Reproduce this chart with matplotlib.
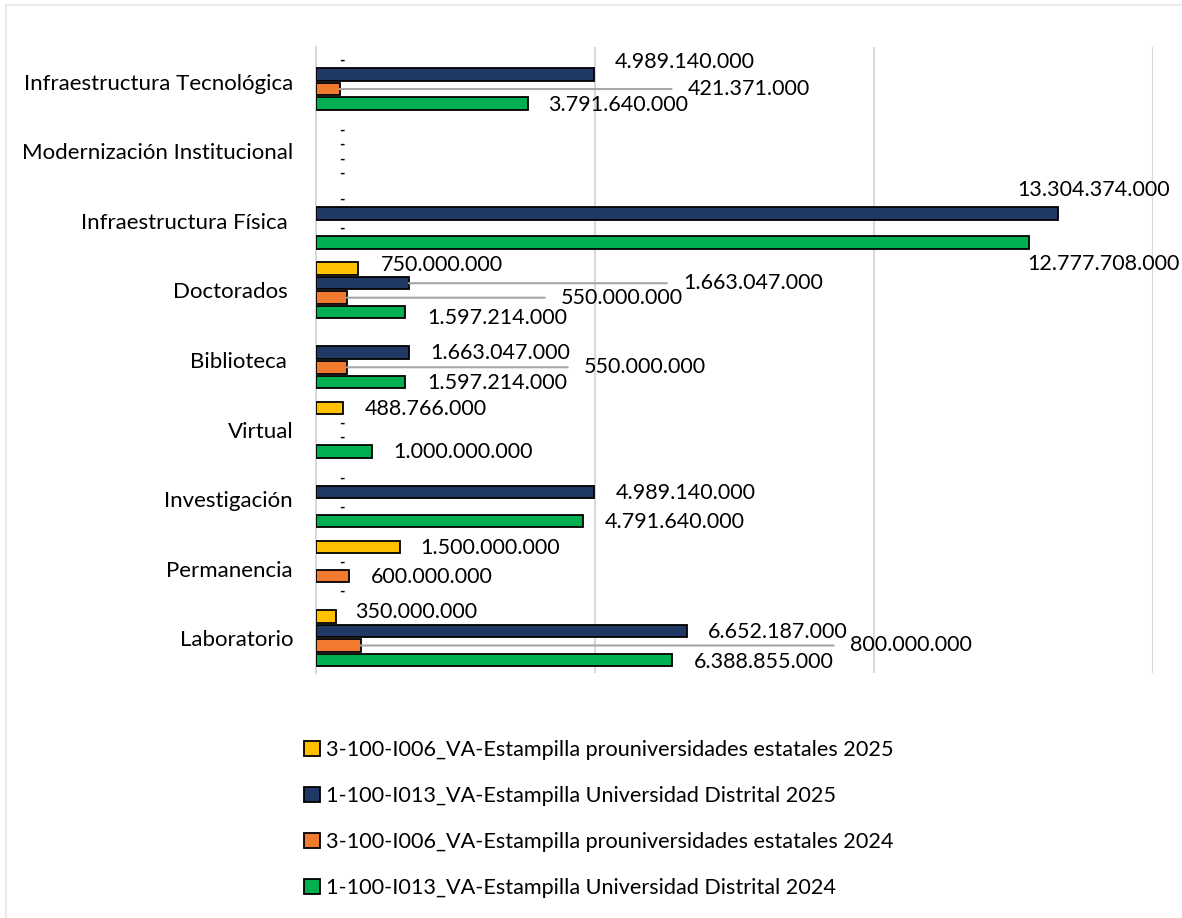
import numpy as np
import matplotlib.pyplot as plt
from matplotlib.patches import Patch, Rectangle

plt.rcParams['font.family'] = ['Lato', 'DejaVu Sans']

# DATOS (de abajo hacia arriba, como los dibuja barh)
categorias = ['Laboratorio', 'Permanencia', 'Investigación', 'Virtual', 'Biblioteca ',
              'Doctorados ', 'Infraestructura Física ', 'Modernización Institucional',
              'Infraestructura Tecnológica']

nombres = ['3-100-I006_VA-Estampilla prouniversidades estatales 2025',
           '1-100-I013_VA-Estampilla Universidad Distrital 2025',
           '3-100-I006_VA-Estampilla prouniversidades estatales 2024',
           '1-100-I013_VA-Estampilla Universidad Distrital 2024']

est_2025 = [350000000, 1500000000, 0, 488766000, None, 750000000, 0, 0, 0]
ud_2025 = [6652187000, 0, 4989140000, 0, 1663047000, 1663047000, 13304374000, 0, 4989140000]
est_2024 = [800000000, 600000000, 0, 0, 550000000, 550000000, 0, 0, 421371000]
ud_2024 = [6388855000, 0, 4791640000, 1000000000, 1597214000, 1597214000, 12777708000, 0, 3791640000]

valores = [est_2025, ud_2025, est_2024, ud_2024]
colores = ['#FFC000', '#203864', '#F07B2F', '#00B050']

# etiquetas movidas a mano: (categoria, serie) -> (dx, dy en pixeles, linea guia)
etiquetas_mov = {
    (8, 1): (20, -12.5, False), (8, 2): (348, 0, True), (8, 3): (21, 1.5, False),
    (6, 1): (-41, -23.5, False), (6, 3): (-2, 21.5, False),
    (5, 0): (23, -3.5, False), (5, 1): (274, 0, True), (5, 2): (214, 0, True), (5, 3): (22, 6, False),
    (4, 1): (21, 0.5, False), (4, 2): (237, 0, True), (4, 3): (22, 1.5, False),
    (0, 0): (20, -4, False), (0, 1): (21, 1.5, False), (0, 2): (489, 0, True), (0, 3): (21, 2.5, False),
}

fig = plt.figure(figsize=(11.82, 9.18), dpi=100)
ax = fig.add_axes([316 / 1182, 245 / 918, (1153 - 316) / 1182, 626 / 918])

y = np.arange(len(categorias))
paso = 0.2086
desp = [1.5 * paso, 0.5 * paso, -0.5 * paso, -1.5 * paso]

for i, serie in enumerate(valores):
    vals = np.array([np.nan if (v is None or v == 0) else v for v in serie], dtype=float)
    ax.barh(y + desp[i], vals, height=0.18, color=colores[i], edgecolor='black',
            linewidth=1.3, zorder=3)
    for j, v in enumerate(serie):
        if v is None:
            continue
        yy = y[j] + desp[i]
        if v == 0:
            # guion para los valores en cero
            ax.annotate('-', xy=(0, yy), xytext=(23, -1), textcoords='offset pixels',
                        ha='left', va='center', fontsize=10.5, fontweight='bold', zorder=4)
            continue
        texto = f'{v:,.0f}'.replace(',', '.')
        dx, dy, guia = etiquetas_mov.get((j, i), (21, 1, False))
        props = None
        if guia:
            props = dict(arrowstyle='-', color='#A6A6A6', lw=1.5, shrinkA=9.5, shrinkB=0,
                         relpos=(0, 0.5))
        ax.annotate(texto, xy=(v, yy), xytext=(dx, -dy), textcoords='offset pixels',
                    ha='left', va='center', fontsize=15.5, arrowprops=props, zorder=4)

ax.set_xlim(0, 15000000000)
ax.set_ylim(-0.5, len(categorias) - 0.5)
ax.set_xticks([0, 5000000000, 10000000000, 15000000000])
ax.set_xticklabels([])
ax.set_yticks(y)
ax.set_yticklabels(categorias, fontsize=16)
ax.tick_params(length=0, pad=16.5)
ax.grid(axis='x', color='#D9D9D9', linewidth=1.5, zorder=0)
for lado in ['top', 'right', 'bottom']:
    ax.spines[lado].set_visible(False)
ax.spines['left'].set_color('#D9D9D9')
ax.spines['left'].set_linewidth(1.5)

handles = [Patch(facecolor=c, edgecolor='black', linewidth=1.3) for c in colores]
fig.legend(handles, nombres, loc='upper left', bbox_to_anchor=(304 / 1182, 1 - 740 / 918),
           frameon=False, fontsize=15.6, handlelength=0.72, handleheight=0.72,
           handletextpad=0.3, labelspacing=1.2, borderpad=0, borderaxespad=0)

fig.add_artist(Rectangle((6 / 1182, -0.01), 1.02, 1 - 5 / 918 + 0.01, transform=fig.transFigure,
                         fill=False, edgecolor='#EBEBEB', linewidth=1.5))

plt.savefig('out.png', dpi=100)
